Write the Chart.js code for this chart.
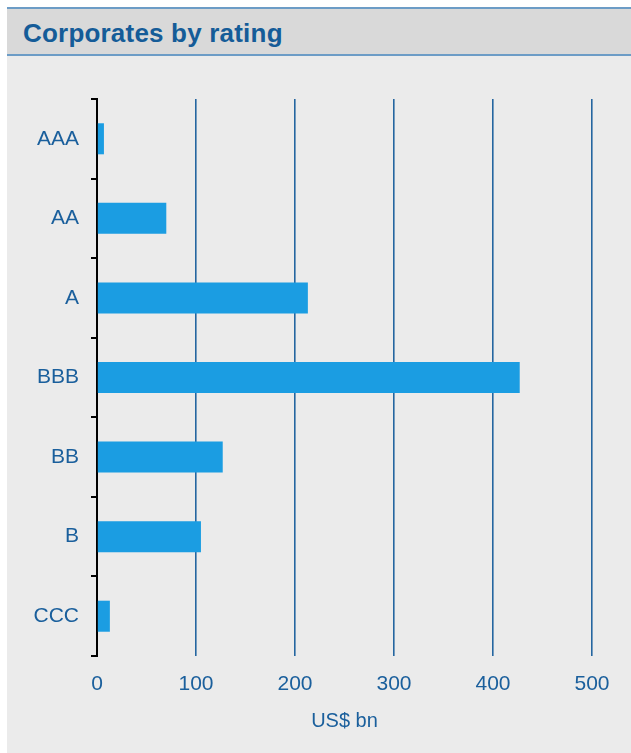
<!DOCTYPE html>
<html>
<head>
<meta charset="utf-8">
<script src="https://cdn.jsdelivr.net/npm/chart.js@4/dist/chart.umd.min.js"></script>
<style>
  html, body { margin: 0; padding: 0; background: #ffffff; }
  body { width: 631px; height: 753px; position: relative; overflow: hidden; font-family: "Liberation Sans", Arial, sans-serif; }
  #panel { position: absolute; left: 7px; top: 7px; width: 624px; height: 746px; background: #ebebeb; }
  #header { position: absolute; left: 0; top: 0; width: 624px; height: 45px; background: #d9d9d9;
            border-top: 2px solid #6c9cc6; border-bottom: 2px solid #6c9cc6; }
  #title { position: absolute; left: 16px; top: 11px; line-height: 26px; font-size: 26px; font-weight: bold;
           color: #155c98; letter-spacing: 0.2px; white-space: nowrap; }
  #wrap { position: absolute; left: 0; top: 48px; width: 624px; height: 697px; }
</style>
</head>
<body>
<div id="panel">
  <div id="header"><div id="title">Corporates by rating</div></div>
  <div id="wrap"><canvas id="chart"></canvas></div>
</div>
<script>
// Outstanding corporate debt by credit rating
const ratings = ['AAA', 'AA', 'A', 'BBB', 'BB', 'B', 'CCC'];
const amounts = [7, 70, 213, 427, 127, 105, 13];
const xTicks = [0, 100, 200, 300, 400, 500];
const xAxisTitle = 'US$ bn';

const labelColor = '#1a5f9c';
const barColor = '#1b9de2';
const gridColor = '#2466a0';

new Chart(document.getElementById('chart'), {
  type: 'bar',
  data: {
    labels: ratings,
    datasets: [{
      data: amounts,
      backgroundColor: barColor,
      borderWidth: 0,
      categoryPercentage: 1,
      barPercentage: 0.39
    }]
  },
  options: {
    indexAxis: 'y',
    responsive: true,
    maintainAspectRatio: false,
    animation: false,
    layout: { padding: { top: 44, right: 39, bottom: 19, left: 0 } },
    plugins: { legend: { display: false }, tooltip: { enabled: false } },
    scales: {
      x: {
        min: xTicks[0],
        max: xTicks[xTicks.length - 1],
        afterBuildTicks: (scale) => { scale.ticks = xTicks.map(v => ({ value: v })); },
        afterFit: (scale) => { scale.height = 77; },
        border: { display: false },
        grid: {
          drawTicks: false,
          lineWidth: 1.6,
          color: (ctx) => (ctx.tick && ctx.tick.value === 0) ? 'rgba(0,0,0,0)' : gridColor
        },
        ticks: {
          padding: 16,
          color: labelColor,
          font: { family: 'Liberation Sans', size: 21 }
        },
        title: {
          display: true,
          text: xAxisTitle,
          color: labelColor,
          padding: { top: 0, bottom: 0 },
          font: { family: 'Liberation Sans', size: 20 }
        }
      },
      y: {
        afterFit: (scale) => { scale.width = 90; },
        border: { display: true, color: '#000000', width: 2 },
        grid: {
          drawOnChartArea: false,
          drawTicks: true,
          tickLength: 6,
          lineWidth: 2,
          color: '#000000'
        },
        ticks: {
          padding: 12,
          color: labelColor,
          font: { family: 'Liberation Sans', size: 21 }
        }
      }
    }
  }
});
</script>
</body>
</html>
